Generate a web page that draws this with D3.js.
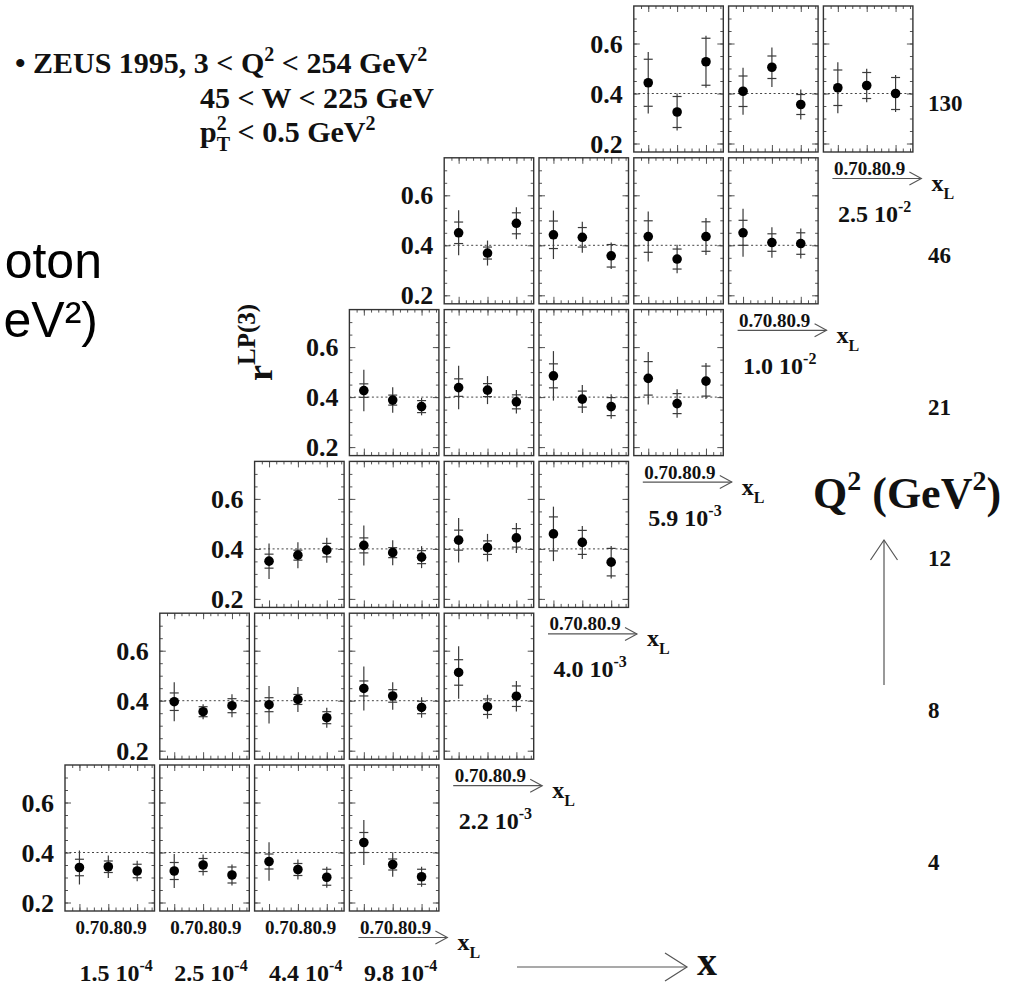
<!DOCTYPE html>
<html>
<head>
<meta charset="utf-8">
<script src="https://cdn.jsdelivr.net/npm/d3@7/dist/d3.min.js"></script>
<style>
  body { margin: 0; background: #fff; }
  svg text { font-family: "Liberation Serif", "Times New Roman", serif; font-weight: bold; fill: #111; }
  svg text.sans { font-family: "Liberation Sans", Arial, sans-serif; font-weight: normal; fill: #000; }
</style>
</head>
<body>
<div id="chart"></div>
<script>
// page size
var svgWidth = 1013;
var svgHeight = 985;

// Q2 rows (bottom to top) and the first x column each row starts at
var q2Bins = ["4", "8", "12", "21", "46", "130"];
var rowFirstCol = [0, 1, 2, 3, 4, 6];

// x bins (columns), written as mantissa 10^exp
var xMant = ["1.5", "2.5", "4.4", "9.8", "2.2", "4.0", "5.9", "1.0", "2.5"];
var xExp = ["-4", "-4", "-4", "-4", "-3", "-3", "-3", "-2", "-2"];

// x_L points in every panel, and axis ticks
var xlTicks = [0.7, 0.8, 0.9];
var yTicks = [0.2, 0.4, 0.6];

// r^LP(3) values, one triple per panel, stat and total errors
var rQ4    = [[0.340, 0.343, 0.326], [0.326, 0.350, 0.310], [0.364, 0.332, 0.301], [0.440, 0.352, 0.303]];
var statQ4 = [[0.033, 0.023, 0.027], [0.034, 0.026, 0.032], [0.030, 0.024, 0.032], [0.040, 0.022, 0.030]];
var totQ4  = [[0.068, 0.045, 0.041], [0.068, 0.042, 0.042], [0.077, 0.040, 0.042], [0.090, 0.049, 0.040]];

var rQ8    = [[0.396, 0.356, 0.380], [0.384, 0.405, 0.332], [0.449, 0.419, 0.373], [0.513, 0.376, 0.418]];
var statQ8 = [[0.035, 0.020, 0.028], [0.028, 0.020, 0.024], [0.030, 0.025, 0.025], [0.051, 0.031, 0.041]];
var totQ8  = [[0.078, 0.030, 0.046], [0.075, 0.050, 0.040], [0.088, 0.055, 0.041], [0.105, 0.048, 0.061]];

var rQ12    = [[0.351, 0.375, 0.395], [0.414, 0.385, 0.367], [0.435, 0.405, 0.444], [0.460, 0.426, 0.347]];
var statQ12 = [[0.028, 0.020, 0.027], [0.030, 0.020, 0.026], [0.040, 0.027, 0.037], [0.068, 0.048, 0.055]];
var totQ12  = [[0.071, 0.052, 0.050], [0.080, 0.050, 0.044], [0.089, 0.055, 0.060], [0.109, 0.066, 0.065]];

var rQ21    = [[0.426, 0.388, 0.362], [0.438, 0.428, 0.381], [0.485, 0.392, 0.362], [0.475, 0.374, 0.464]];
var statQ21 = [[0.027, 0.020, 0.024], [0.035, 0.026, 0.028], [0.048, 0.032, 0.036], [0.067, 0.040, 0.060]];
var totQ21  = [[0.083, 0.051, 0.035], [0.087, 0.056, 0.047], [0.099, 0.056, 0.049], [0.105, 0.057, 0.072]];

var rQ46    = [[0.450, 0.369, 0.488], [0.442, 0.432, 0.358], [0.435, 0.345, 0.435], [0.450, 0.411, 0.407]];
var statQ46 = [[0.043, 0.024, 0.042], [0.055, 0.039, 0.045], [0.063, 0.040, 0.059], [0.050, 0.035, 0.043]];
var totQ46  = [[0.090, 0.050, 0.064], [0.097, 0.062, 0.053], [0.100, 0.057, 0.074], [0.096, 0.061, 0.060]];

var rQ130    = [[0.443, 0.326, 0.527], [0.409, 0.505, 0.356], [0.423, 0.432, 0.400]];
var statQ130 = [[0.094, 0.062, 0.094], [0.061, 0.045, 0.040], [0.071, 0.052, 0.064]];
var totQ130  = [[0.123, 0.074, 0.104], [0.094, 0.079, 0.060], [0.102, 0.067, 0.074]];

var rowVals = [rQ4, rQ8, rQ12, rQ21, rQ46, rQ130];
var rowStat = [statQ4, statQ8, statQ12, statQ21, statQ46, statQ130];
var rowTot = [totQ4, totQ8, totQ12, totQ21, totQ46, totQ130];

// panel geometry
var panelW = 89.5, panelH = 146;
var colLeft = d3.scaleLinear().domain([0, 8]).range([65, 823.4]);
var rowTop = d3.scaleLinear().domain([0, 5]).range([765, 6]);
var x = d3.scaleLinear().domain([0.65, 0.96]).range([0, panelW]);
var y = d3.scaleLinear().domain([0.166, 0.75]).range([panelH, 0]);

var frameColor = "#333";
var barColor = "#3a3a3a";

var svg = d3.select("#chart")
  .append("svg")
  .attr("width", svgWidth)
  .attr("height", svgHeight);

// build the list of panels
var panels = [];
rowVals.forEach(function(row, ri) {
  row.forEach(function(vals, j) {
    panels.push({
      row: ri,
      col: rowFirstCol[ri] + j,
      first: j === 0,
      last: j === row.length - 1,
      points: xlTicks.map(function(xl, k) {
        return { xl: xl, v: vals[k], s: rowStat[ri][j][k], t: rowTot[ri][j][k] };
      })
    });
  });
});

var pg = svg.selectAll("g.panel")
  .data(panels)
  .enter().append("g")
  .attr("class", "panel")
  .attr("transform", function(d) {
    return "translate(" + colLeft(d.col) + "," + rowTop(d.row) + ")";
  });

// inward ticks on the four sides
var yMinor = d3.range(0.2, 0.7001, 0.05);
var xMinor = d3.range(0.675, 0.9501, 0.025);

function tickAxis(sel, axis, tx, ty) {
  sel.append("g")
    .attr("transform", "translate(" + tx + "," + ty + ")")
    .call(axis)
    .call(function(g) {
      g.select(".domain").remove();
      g.selectAll("text").remove();
      g.selectAll("line").attr("stroke", "#555").attr("stroke-width", 1);
    });
}

pg.each(function() {
  var g = d3.select(this);
  tickAxis(g, d3.axisRight(y).tickValues(yMinor).tickSize(3), 0, 0);
  tickAxis(g, d3.axisRight(y).tickValues(yTicks).tickSize(6), 0, 0);
  tickAxis(g, d3.axisLeft(y).tickValues(yMinor).tickSize(3), panelW, 0);
  tickAxis(g, d3.axisLeft(y).tickValues(yTicks).tickSize(6), panelW, 0);
  tickAxis(g, d3.axisBottom(x).tickValues(xMinor).tickSize(3), 0, 0);
  tickAxis(g, d3.axisBottom(x).tickValues(xlTicks).tickSize(6), 0, 0);
  tickAxis(g, d3.axisTop(x).tickValues(xMinor).tickSize(3.5), 0, panelH);
  tickAxis(g, d3.axisTop(x).tickValues(xlTicks).tickSize(7), 0, panelH);
});

// frame
pg.append("rect")
  .attr("width", panelW)
  .attr("height", panelH)
  .attr("fill", "none")
  .attr("stroke", frameColor)
  .attr("stroke-width", 1.4);

// dotted reference line at 0.4
pg.append("line")
  .attr("x1", 0).attr("x2", panelW)
  .attr("y1", y(0.4)).attr("y2", y(0.4))
  .attr("stroke", "#444")
  .attr("stroke-width", 1)
  .attr("stroke-dasharray", "2,2.5");

// points with errors
var pts = pg.selectAll("g.pt")
  .data(function(d) { return d.points; })
  .enter().append("g")
  .attr("class", "pt");

pts.append("line")
  .attr("x1", function(p) { return x(p.xl); })
  .attr("x2", function(p) { return x(p.xl); })
  .attr("y1", function(p) { return y(p.v + p.t); })
  .attr("y2", function(p) { return y(p.v - p.t); })
  .attr("stroke", barColor)
  .attr("stroke-width", 1.2);

[1, -1].forEach(function(sign) {
  pts.append("line")
    .attr("x1", function(p) { return x(p.xl) - 4.5; })
    .attr("x2", function(p) { return x(p.xl) + 4.5; })
    .attr("y1", function(p) { return y(p.v + sign * p.s); })
    .attr("y2", function(p) { return y(p.v + sign * p.s); })
    .attr("stroke", barColor)
    .attr("stroke-width", 1.2);
});

pts.append("circle")
  .attr("cx", function(p) { return x(p.xl); })
  .attr("cy", function(p) { return y(p.v); })
  .attr("r", 4.8)
  .attr("fill", "#000");

// y tick labels left of each row
pg.filter(function(d) { return d.first; })
  .selectAll("text.ylab")
  .data(yTicks)
  .enter().append("text")
  .attr("class", "ylab")
  .attr("x", -11)
  .attr("y", function(t) { return y(t) + 9; })
  .attr("text-anchor", "end")
  .attr("font-size", "26px")
  .text(function(t) { return t.toFixed(1); });

// x_L tick labels: every bottom-row panel, last panel of other rows
var xlText = xlTicks.map(function(t) { return t.toFixed(1); }).join("");
var labelled = pg.filter(function(d) { return d.row === 0 || d.last; });

labelled.append("text")
  .attr("x", 10.5)
  .attr("y", panelH + 23)
  .attr("font-size", "19px")
  .text(xlText);

// x bin label under the panel
labelled.append("text")
  .attr("x", 14.5)
  .attr("y", panelH + 70)
  .attr("font-size", "24px")
  .text(function(d) { return xMant[d.col] + " 10"; })
  .append("tspan")
  .attr("dy", -10)
  .attr("font-size", "16px")
  .text(function(d) { return xExp[d.col]; });

// arrow to x_L on the last panel of each row
var lastP = pg.filter(function(d) { return d.last; });
var ay = panelH + 26.5;
lastP.append("line")
  .attr("x1", 9).attr("x2", 98)
  .attr("y1", ay).attr("y2", ay)
  .attr("stroke", "#555").attr("stroke-width", 1.2);
lastP.append("path")
  .attr("d", "M86," + (ay - 6.5) + "L98," + ay + "L86," + (ay + 6.5))
  .attr("fill", "none")
  .attr("stroke", "#555").attr("stroke-width", 1.1);
var xl = lastP.append("text")
  .attr("x", 108)
  .attr("y", ay + 12.5)
  .attr("font-size", "24px")
  .text("x");
xl.append("tspan")
  .attr("dy", 8)
  .attr("font-size", "16px")
  .text("L");

// Q2 values on the right
svg.selectAll("text.q2")
  .data(q2Bins)
  .enter().append("text")
  .attr("class", "q2")
  .attr("x", 928)
  .attr("y", function(d, i) { return rowTop(i) + 105; })
  .attr("font-size", "23px")
  .text(function(d) { return d; });

// Q2 axis title and arrow
var qt = svg.append("text")
  .attr("x", 813).attr("y", 508)
  .attr("font-size", "44px");
qt.append("tspan").text("Q");
qt.append("tspan").attr("dy", -18).attr("font-size", "28px").text("2");
qt.append("tspan").attr("dy", 18).text(" (GeV");
qt.append("tspan").attr("dy", -18).attr("font-size", "28px").text("2");
qt.append("tspan").attr("dy", 18).text(")");

svg.append("line")
  .attr("x1", 884).attr("x2", 884)
  .attr("y1", 685).attr("y2", 540)
  .attr("stroke", "#555").attr("stroke-width", 1.2);
svg.append("path")
  .attr("d", "M870.5,560L884,540L897.5,560")
  .attr("fill", "none").attr("stroke", "#555").attr("stroke-width", 1.2);

// x arrow at the bottom
svg.append("line")
  .attr("x1", 517).attr("x2", 687)
  .attr("y1", 967).attr("y2", 967)
  .attr("stroke", "#555").attr("stroke-width", 1.2);
svg.append("path")
  .attr("d", "M665,953L687,967L665,981")
  .attr("fill", "none").attr("stroke", "#555").attr("stroke-width", 1.2);
svg.append("text")
  .attr("x", 697).attr("y", 975)
  .attr("font-size", "40px")
  .text("x");

// y axis title r^LP(3)
var rt = svg.append("text")
  .attr("transform", "translate(272,381) rotate(-90)")
  .attr("font-size", "36px");
rt.append("tspan").text("r");
rt.append("tspan").attr("dy", -17).attr("font-size", "25px").text("LP(3)");

// legend text
var t1 = svg.append("text").attr("x", 15).attr("y", 73).attr("font-size", "30px");
t1.append("tspan").text("\u2022 ZEUS 1995, 3 < Q");
t1.append("tspan").attr("dy", -12).attr("font-size", "20px").text("2");
t1.append("tspan").attr("dy", 12).text(" < 254 GeV");
t1.append("tspan").attr("dy", -12).attr("font-size", "20px").text("2");

svg.append("text").attr("x", 200).attr("y", 108).attr("font-size", "30px")
  .text("45 < W < 225 GeV");

var t3 = svg.append("text").attr("x", 200).attr("y", 142).attr("font-size", "30px");
t3.append("tspan").text("p");
t3.append("tspan").attr("dy", -12).attr("font-size", "20px").text("2");
t3.append("tspan").attr("dx", -10).attr("dy", 21).attr("font-size", "20px").text("T");
t3.append("tspan").attr("dy", -9).text(" < 0.5 GeV");
t3.append("tspan").attr("dy", -12).attr("font-size", "20px").text("2");

// slide text on the left
svg.append("text").attr("class", "sans")
  .attr("x", 102).attr("y", 278).attr("text-anchor", "end")
  .attr("font-size", "50px").text("oton");
svg.append("text").attr("class", "sans")
  .attr("x", 98).attr("y", 337).attr("text-anchor", "end")
  .attr("font-size", "50px").text("eV\u00b2)");
</script>
</body>
</html>
